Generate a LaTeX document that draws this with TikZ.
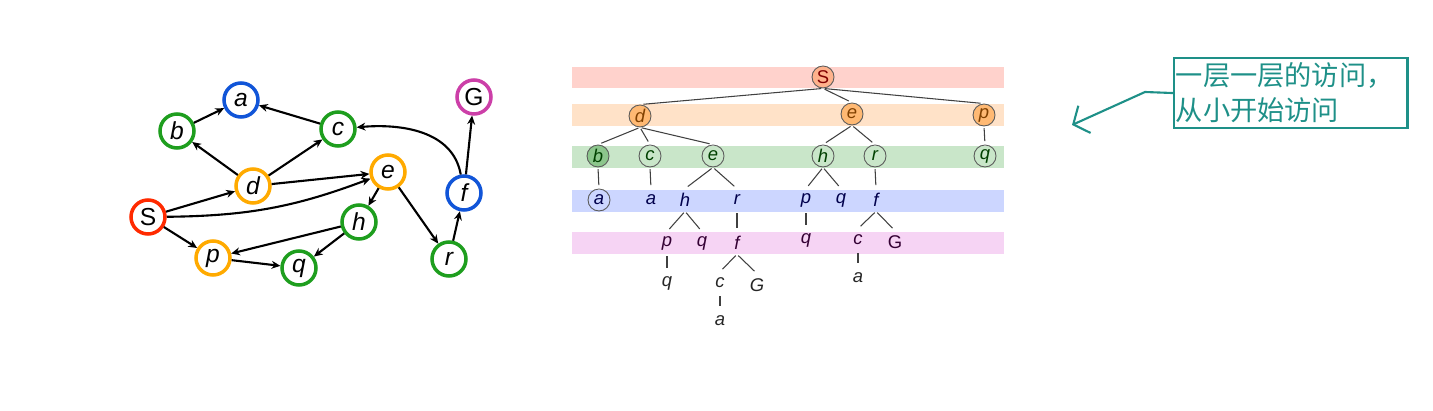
\documentclass[tikz,border=0pt]{standalone}
\usepackage{fontspec}
\setmainfont{Liberation Sans}
\newfontfamily\cjk{Noto Sans CJK SC}
\usetikzlibrary{arrows.meta}
\definecolor{gred}{HTML}{FF2A00}
\definecolor{gblue}{HTML}{1155D8}
\definecolor{ggreen}{HTML}{1E9E1E}
\definecolor{gorange}{HTML}{FFAA00}
\definecolor{gmag}{HTML}{CC3FA8}
\definecolor{bandred}{HTML}{FFD2CC}
\definecolor{bandorange}{HTML}{FFE2C8}
\definecolor{bandgreen}{HTML}{C9E6C9}
\definecolor{bandblue}{HTML}{CCD6FF}
\definecolor{bandpink}{HTML}{F6D4F4}
\definecolor{notecol}{HTML}{1E9088}
\begin{document}
\begin{tikzpicture}[x=0.02cm,y=-0.02cm,
    gnode/.style={circle,draw,line width=2pt,fill=white,minimum size=0.68cm,inner sep=0pt,
      font=\fontsize{14}{14}\selectfont\itshape},
    garrow/.style={line width=1.2pt,-{Stealth[length=5pt,width=4.5pt]}},
    tnode/.style={circle,draw=black!65,line width=0.5pt,minimum size=0.44cm,inner sep=0pt,
      font=\fontsize{10.5}{11}\selectfont\itshape},
    tleaf/.style={circle,minimum size=0.44cm,inner sep=0pt,
      font=\fontsize{10.5}{11}\selectfont\itshape},
    tline/.style={draw=black!75,line width=0.6pt,shorten <=1pt,shorten >=2pt}]
  \useasboundingbox (0,0) rectangle (1433,411);
  % graph
  \node[gnode,draw=gred,font=\fontsize{14}{14}\selectfont] (S) at (148,217) {S};
  \node[gnode,draw=gblue] (a) at (241,100) {a};
  \node[gnode,draw=ggreen] (b) at (177,131) {b};
  \node[gnode,draw=ggreen] (c) at (338,129) {c};
  \node[gnode,draw=gorange] (d) at (253,186) {d};
  \node[gnode,draw=gorange] (e) at (388,172) {e};
  \node[gnode,draw=ggreen] (h) at (359,222) {h};
  \node[gnode,draw=gorange] (p) at (213,258) {p};
  \node[gnode,draw=ggreen] (q) at (299,268) {q};
  \node[gnode,draw=ggreen] (r) at (449,259) {r};
  \node[gnode,draw=gblue] (f) at (464,193) {f};
  \node[gnode,draw=gmag,font=\fontsize{14}{14}\selectfont] (G) at (474,97) {G};
  \foreach \u/\v in {b/a,c/a,d/b,d/c,d/e,S/d,S/p,e/h,e/r,h/p,h/q,p/q,r/f,f/G}
    \draw[garrow] (\u) -- (\v);
  \draw[garrow] (S) to[bend right=10] (e);
  \draw[garrow] (f) to[out=100,in=5] (c);
  % search tree bands
  \fill[bandred] (572,67) rectangle (1004,88);
  \fill[bandorange] (572,104) rectangle (1004,126);
  \fill[bandgreen] (572,146) rectangle (1004,168);
  \fill[bandblue] (572,190) rectangle (1004,212);
  \fill[bandpink] (572,232) rectangle (1004,254);
  % tree nodes
  \node[tnode,fill=red!35!orange!45,text=red!50!black,font=\fontsize{10.5}{11}\selectfont] (S0) at (823,77) {S};
  \begin{scope}[every node/.append style={text=orange!50!black}]
    \node[tnode,fill=orange!55] (d1) at (640,116) {d};
    \node[tnode,fill=orange!55] (e1) at (852,114) {e};
    \node[tnode,fill=orange!55] (p1) at (984,115) {p};
  \end{scope}
  \begin{scope}[every node/.append style={text=green!25!black}]
    \node[tnode,fill=green!50!black!45] (b2) at (598,156) {b};
    \node[tnode] (c2) at (650,156) {c};
    \node[tnode] (e2) at (713,156) {e};
    \node[tnode] (h2) at (823,156) {h};
    \node[tnode] (r2) at (875,156) {r};
    \node[tnode] (q2) at (985,156) {q};
  \end{scope}
  \begin{scope}[every node/.append style={text=blue!30!black}]
    \node[tnode] (a3) at (599,200) {a};
    \node[tleaf] (a3b) at (651,200) {a};
    \node[tleaf] (h3) at (685,200) {h};
    \node[tleaf] (r3) at (737,200) {r};
    \node[tleaf] (p3) at (806,200) {p};
    \node[tleaf] (q3) at (841,200) {q};
    \node[tleaf] (f3) at (876,200) {f};
  \end{scope}
  \begin{scope}[every node/.append style={text=violet!40!black}]
    \node[tleaf] (p4) at (667,243) {p};
    \node[tleaf] (q4) at (702,243) {q};
    \node[tleaf] (f4) at (737,243) {f};
    \node[tleaf] (q4b) at (806,240) {q};
    \node[tleaf] (c4) at (858,240) {c};
    \node[tleaf,font=\fontsize{10.5}{11}\selectfont] (G4) at (895,242) {G};
  \end{scope}
  \begin{scope}[every node/.append style={text=black!85}]
    \node[tleaf] (q5) at (667,283) {q};
    \node[tleaf] (c5) at (720,283) {c};
    \node[tleaf] (G5) at (757,285) {G};
    \node[tleaf] (a5) at (858,278) {a};
    \node[tleaf] (a6) at (720,321) {a};
  \end{scope}
  \foreach \u/\v in {S0/d1,S0/e1,S0/p1,d1/b2,d1/c2,d1/e2,e1/h2,e1/r2,p1/q2,
      b2/a3,c2/a3b,e2/h3,e2/r3,h2/p3,h2/q3,r2/f3,h3/p4,h3/q4,r3/f4,p3/q4b,
      f3/c4,f3/G4,p4/q5,f4/c5,f4/G5,c4/a5,c5/a6}
    \draw[tline] (\u.south) -- (\v.north);
  % note
  \node[draw=notecol,line width=1.2pt,text=notecol,anchor=north west,align=left,
    text width=4.6cm,minimum height=1.4cm,inner sep=1pt,
    font=\cjk\fontsize{15.5}{20}\selectfont] (note) at (1173,57)
    {一层一层的访问，\\从小开始访问};
  \coordinate (knee) at (1145,92);
  \coordinate (tip) at (1072,125);
  \draw[notecol,line width=1.2pt,-{Straight Barb[length=7pt,width=17pt]}]
    (note.west) -- (knee) -- (tip);
\end{tikzpicture}
\end{document}
